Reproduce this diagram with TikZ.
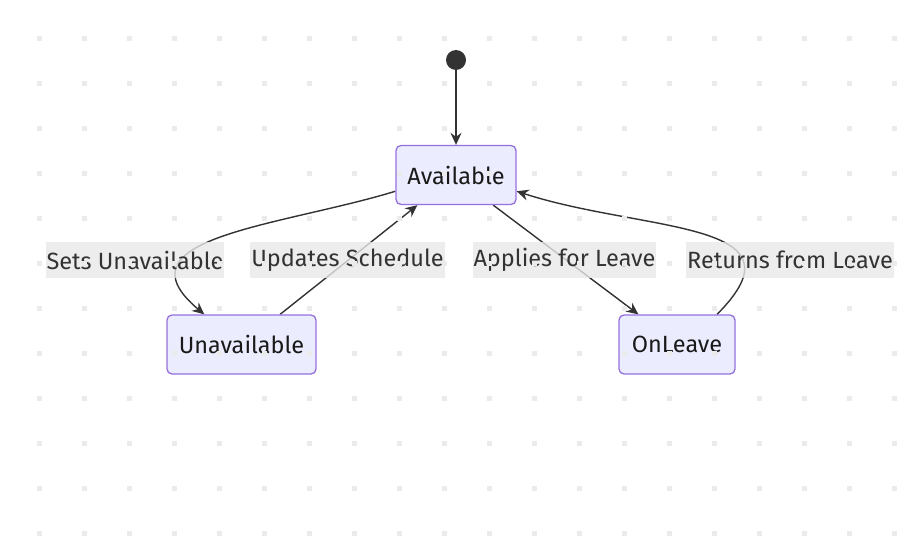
\documentclass[tikz,border=0pt]{standalone}
\usepackage{fontspec}
\setmainfont{Fira Sans}
\usetikzlibrary{arrows.meta}
\usetikzlibrary{topaths,backgrounds}
\pgfdeclarelayer{edgelayer}
\pgfdeclarelayer{nodelayer}
\pgfsetlayers{background,edgelayer,nodelayer,main}
\definecolor{statefill}{HTML}{ECECFF}
\definecolor{stateline}{HTML}{9370DB}
\definecolor{edgeline}{HTML}{333333}
\definecolor{tagfill}{HTML}{E8E8E8}
\definecolor{griddot}{HTML}{EBEBEB}
\tikzstyle{none}=[inner sep=0mm]
\tikzstyle{start dot}=[circle,fill=edgeline,minimum size=20pt,inner sep=0pt]
\tikzstyle{state}=[rectangle,rounded corners=5pt,draw=stateline,line width=1.3pt,fill=statefill,minimum height=59pt,inner sep=0pt,text=black!90,font=\fontsize{23.5}{28}\selectfont]
\tikzstyle{tag}=[fill=tagfill,fill opacity=0.8,text opacity=1,text=edgeline,minimum height=36pt,inner xsep=1pt,inner ysep=0pt,font=\fontsize{23.5}{28}\selectfont]
\tikzstyle{trans}=[draw=edgeline,line width=1.4pt,-{Stealth[length=12pt,width=11pt,inset=4pt]}]

\begin{document}
\begin{tikzpicture}[x=1pt,y=-1pt]
	\useasboundingbox (0,0) rectangle (916,554);
	% grid of dots
	\foreach \i in {0,...,19}
		\foreach \j in {0,...,11}
			\fill [griddot] (39+45*\i-2.5,38+45*\j-2.5) rectangle +(5,5);
	\begin{pgfonlayer}{nodelayer}
		\node [style=start dot] (start) at (456, 60) {};
		\node [style=state, minimum width=120pt] (avail) at (456, 175) {Available};
		\node [style=state, minimum width=149pt] (unavail) at (241.5, 344.5) {Unavailable};
		\node [style=state, minimum width=116pt] (leave) at (677, 344.5) {OnLeave};
		\node [style=tag] (t1) at (135, 260) {Sets Unavailable};
		\node [style=tag] (t2) at (347.5, 260) {Updates Schedule};
		\node [style=tag] (t3) at (564.5, 260) {Applies for Leave};
		\node [style=tag] (t4) at (790, 260) {Returns from Leave};
	\end{pgfonlayer}
	\begin{pgfonlayer}{edgelayer}
		\draw [style=trans] (start) to (avail);
		\draw [style=trans, out=197, in=140, looseness=1.35] (avail.195) to (unavail.141);
		\draw [style=trans] (unavail.38) to (avail.218);
		\draw [style=trans] (avail.321) to (leave.142);
		\draw [style=trans, out=45, in=-18, looseness=1.45] (leave.37) to (avail.345);
	\end{pgfonlayer}
\end{tikzpicture}
\end{document}
